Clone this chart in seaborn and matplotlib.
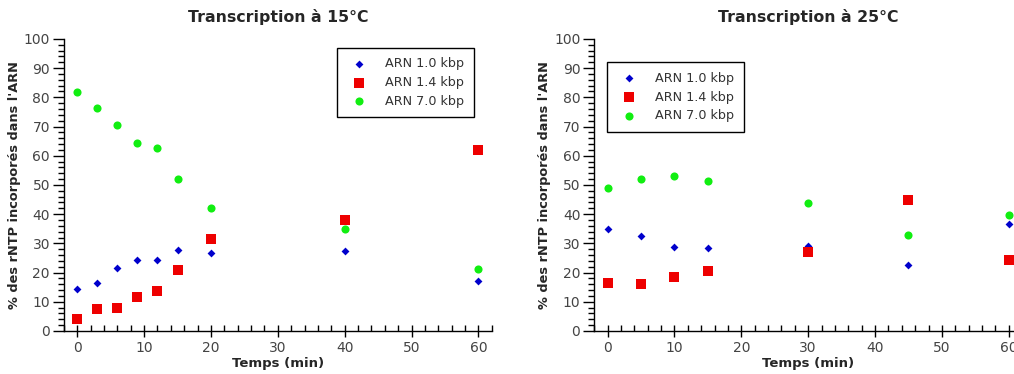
import pandas as pd
import matplotlib
matplotlib.use('Agg')
import matplotlib.pyplot as plt
from matplotlib.ticker import MultipleLocator
import seaborn as sns

# Data
series_names = ['ARN 1.0 kbp', 'ARN 1.4 kbp', 'ARN 7.0 kbp']

temps_15 = [0, 3, 6, 9, 12, 15, 20, 40, 60]
arn10_15 = [14.5, 16.5, 21.7, 24.3, 24.3, 27.7, 26.7, 27.4, 17.1]
arn14_15 = [4.0, 7.4, 7.8, 11.6, 13.6, 20.8, 31.6, 38.1, 61.8]
arn70_15 = [81.9, 76.4, 70.6, 64.4, 62.5, 51.9, 42.1, 34.8, 21.3]

temps_25 = [0, 5, 10, 15, 30, 45, 60]
arn10_25 = [34.9, 32.5, 28.7, 28.4, 29.1, 22.7, 36.5]
arn14_25 = [16.6, 16.0, 18.4, 20.6, 27.1, 44.9, 24.2]
arn70_25 = [48.8, 52.2, 53.2, 51.2, 43.8, 32.8, 39.7]

palette = {'ARN 1.0 kbp': '#0000cc', 'ARN 1.4 kbp': '#ee0000', 'ARN 7.0 kbp': '#11ee11'}
markers = {'ARN 1.0 kbp': 'D', 'ARN 1.4 kbp': 's', 'ARN 7.0 kbp': 'o'}
sizes = {'ARN 1.0 kbp': 16, 'ARN 1.4 kbp': 50, 'ARN 7.0 kbp': 34}


def to_long(temps, *series):
    rows = []
    for name, vals in zip(series_names, series):
        for t, v in zip(temps, vals):
            rows.append({'temps': t, 'pct': v, 'serie': name})
    return pd.DataFrame(rows)


def draw_panel(ax, df, title, legend_anchor):
    for name in series_names:
        sub = df[df['serie'] == name]
        sns.scatterplot(data=sub, x='temps', y='pct', ax=ax, color=palette[name],
                        marker=markers[name], s=sizes[name], linewidth=0, label=name)
    ax.set_xlim(-2, 62)
    ax.set_ylim(0, 100)
    ax.xaxis.set_major_locator(MultipleLocator(10))
    ax.xaxis.set_minor_locator(MultipleLocator(2))
    ax.yaxis.set_major_locator(MultipleLocator(10))
    ax.yaxis.set_minor_locator(MultipleLocator(2))
    ax.tick_params(axis='both', which='both', bottom=True, left=True, color='black')
    ax.tick_params(axis='x', which='major', direction='inout', length=9, width=1,
                   labelsize=10, labelcolor='#444444', pad=3)
    ax.tick_params(axis='x', which='minor', direction='in', length=4, width=1)
    ax.tick_params(axis='y', which='major', direction='out', length=8, width=1,
                   labelsize=10, labelcolor='#444444', pad=2)
    ax.tick_params(axis='y', which='minor', direction='out', length=4, width=1)
    for side in ['top', 'right']:
        ax.spines[side].set_visible(False)
    for side in ['left', 'bottom']:
        ax.spines[side].set_color('black')
        ax.spines[side].set_linewidth(1)
    ax.set_title(title, fontsize=11.3, fontweight='bold', pad=12)
    ax.set_xlabel('Temps (min)', fontsize=9.5, fontweight='bold', labelpad=1)
    ax.set_ylabel("% des rNTP incorporés dans l'ARN", fontsize=9.3, fontweight='bold', labelpad=2)
    leg = ax.legend(loc='upper left', bbox_to_anchor=legend_anchor, frameon=True, fancybox=False,
                    fontsize=9.2, borderpad=0.75, labelspacing=0.45, handletextpad=1.0,
                    borderaxespad=0, edgecolor='black', framealpha=1)
    leg.get_frame().set_linewidth(1)
    for t in leg.get_texts():
        t.set_color('#333333')


sns.set_style('white')
plt.rcParams['font.family'] = ['DejaVu Sans']

fig = plt.figure(figsize=(10.14, 3.74), dpi=100)
ax1 = fig.add_axes([0.063, 0.115, 0.422, 0.781])
ax2 = fig.add_axes([0.586, 0.115, 0.422, 0.781])

draw_panel(ax1, to_long(temps_15, arn10_15, arn14_15, arn70_15),
           'Transcription à 15°C', (0.638, 0.97))
draw_panel(ax2, to_long(temps_25, arn10_25, arn14_25, arn70_25),
           'Transcription à 25°C', (0.03, 0.92))

fig.savefig('out.png', dpi=100)
